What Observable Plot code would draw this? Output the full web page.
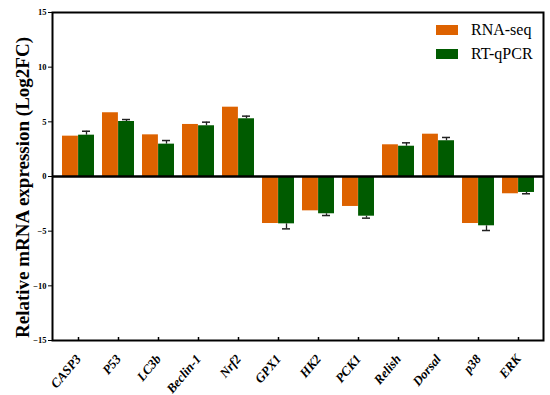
<!DOCTYPE html>
<html>
<head>
<meta charset="utf-8">
<script src="https://cdn.jsdelivr.net/npm/d3@7"></script>
<script src="https://cdn.jsdelivr.net/npm/@observablehq/plot@0.6"></script>
<style>
  body { margin: 0; background: #fff; }
  #wrap { position: relative; width: 550px; height: 395px; }
  #legend { position: absolute; left: 436px; top: 18px; font-family: "Liberation Serif", serif; font-size: 16px; color: #000; }
  #legend .row { display: flex; align-items: center; height: 24px; }
  #legend .sw { width: 22px; height: 10px; margin-right: 13px; }
</style>
</head>
<body>
<div id="wrap"></div>
<script>
const genes = ["CASP3","P53","LC3b","Beclin-1","Nrf2","GPX1","HK2","PCK1","Relish","Dorsal","p38","ERK"];
const seriesNames = ["RNA-seq", "RT-qPCR"];
const seriesColors = ["#DD6200", "#005B00"];
const rnaSeq = [3.69, 5.83, 3.81, 4.76, 6.34, -4.30, -3.14, -2.74, 2.90, 3.87, -4.30, -1.58];
const qpcr   = [3.78, 5.03, 2.96, 4.64, 5.28, -4.33, -3.41, -3.63, 2.77, 3.27, -4.51, -1.46];
const qpcrErr = [0.36, 0.18, 0.33, 0.33, 0.24, 0.46, 0.16, 0.18, 0.31, 0.30, 0.43, 0.12];
const yTicks = [-15, -10, -5, 0, 5, 10, 15];
const yTitle = "Relative mRNA expression (Log2FC)";
const serif = "Liberation Serif, serif";

const rnaRows = genes.map((g, i) => ({gene: g, value: rnaSeq[i]}));
const qRows = genes.map((g, i) => ({gene: g, value: qpcr[i], end: qpcr[i] + Math.sign(qpcr[i]) * qpcrErr[i]}));

const chart = Plot.plot({
  width: 550,
  height: 395,
  marginLeft: 52,
  marginRight: 7,
  marginTop: 12,
  marginBottom: 55,
  style: {fontFamily: serif, color: "#000", background: "#fff"},
  x: {domain: genes, paddingInner: 0.2, paddingOuter: 0.19, label: null},
  y: {domain: [-15, 15], label: null},
  marks: [
    Plot.barY(rnaRows, {x: "gene", y: "value", fill: seriesColors[0], insetRight: 16.1}),
    Plot.barY(qRows, {x: "gene", y: "value", fill: seriesColors[1], insetLeft: 16.1}),
    Plot.ruleX(qRows, {x: "gene", y1: "value", y2: "end", dx: 8, stroke: "#222", strokeWidth: 1.3}),
    Plot.tickY(qRows, {x: "gene", y: "end", insetLeft: 20, insetRight: 4, stroke: "#222", strokeWidth: 1.5}),
    Plot.axisY({ticks: yTicks, tickSize: 4, tickPadding: 2, fontSize: 8.5, fontWeight: "bold", fontFamily: serif, stroke: "#000", fill: "#000", label: null}),
    Plot.axisX({tickSize: 3, dy: -3, text: null, stroke: "#000", strokeWidth: 1.5, label: null}),
    Plot.axisX({tickSize: 0, tickPadding: 16, tickRotate: -50, fontSize: 13, fontStyle: "italic", fontWeight: "bold", fontFamily: serif, fill: "#000", label: null}),
    Plot.ruleY([0], {stroke: "#000", strokeWidth: 2.5}),
    Plot.frame({stroke: "#000", strokeWidth: 2}),
    Plot.text([yTitle], {frameAnchor: "left", textAnchor: "middle", lineAnchor: "middle", rotate: -90, dx: -30, dy: 11, fontSize: 19, fontWeight: "bold", fontFamily: serif, fill: "#000", text: d => d})
  ]
});
const wrap = document.getElementById("wrap");
wrap.appendChild(chart);
const legend = document.createElement("div");
legend.id = "legend";
seriesNames.forEach((n, i) => {
  const row = document.createElement("div");
  row.className = "row";
  const sw = document.createElement("span");
  sw.className = "sw";
  sw.style.background = seriesColors[i];
  const t = document.createElement("span");
  t.textContent = n;
  row.appendChild(sw); row.appendChild(t);
  legend.appendChild(row);
});
wrap.appendChild(legend);
</script>
</body>
</html>
